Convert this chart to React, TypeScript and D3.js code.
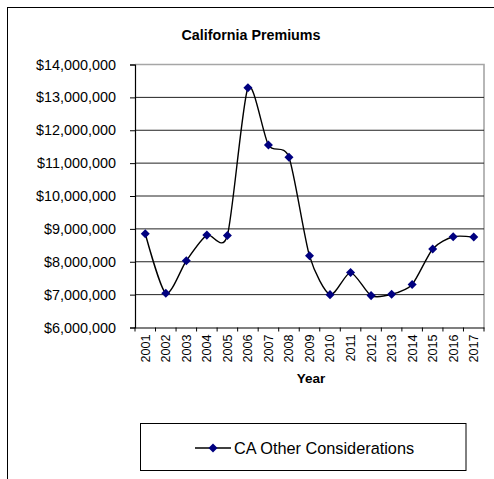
import React, { useEffect, useRef } from 'react';
import * as d3 from 'd3';

const years = ['2001', '2002', '2003', '2004', '2005', '2006', '2007', '2008', '2009',
  '2010', '2011', '2012', '2013', '2014', '2015', '2016', '2017'];
const premiums = [8850000, 7040000, 8030000, 8810000, 8800000, 13290000, 11550000, 11180000,
  8180000, 7000000, 7670000, 6970000, 7010000, 7310000, 8390000, 8760000, 8750000];
const yTicks = [6000000, 7000000, 8000000, 9000000, 10000000, 11000000, 12000000, 13000000, 14000000];
const seriesName = 'CA Other Considerations';
const title = 'California Premiums';
const xTitle = 'Year';

const W = 494;
const H = 479;
const font = '"Liberation Sans", Arial, sans-serif';

const App = () => {
  const svgRef = useRef<SVGSVGElement>(null);

  useEffect(() => {
    const svg = d3.select(svgRef.current);
    svg.selectAll('*').remove();

    const left = 135, right = 484, top = 64.5, bottom = 327.5;
    const x = d3.scaleBand().domain(years).range([left, right]).padding(0);
    const y = d3.scaleLinear().domain([6000000, 14000000]).range([bottom, top]);
    const fmt = (v: number) => '$' + d3.format(',')(v);

    // outer chart border (runs off the right and bottom of the picture)
    svg.append('rect').attr('x', 7.5).attr('y', 7.5).attr('width', W).attr('height', H)
      .attr('fill', 'none').attr('stroke', '#000').attr('stroke-width', 1);

    svg.append('text').attr('x', 251).attr('y', 40).attr('text-anchor', 'middle')
      .attr('font-family', font).attr('font-weight', 'bold').attr('font-size', 14.3)
      .text(title);

    // plot area frame, grey top and right
    svg.append('path')
      .attr('d', `M${left},${top}H${right}V${bottom}`)
      .attr('fill', 'none').attr('stroke', '#a6a6a6').attr('stroke-width', 1.6);

    // gridlines
    svg.append('g').selectAll('line')
      .data(yTicks.filter(t => t > 6000000 && t < 14000000))
      .join('line')
      .attr('x1', left).attr('x2', right)
      .attr('y1', d => y(d)).attr('y2', d => y(d))
      .attr('stroke', '#222').attr('stroke-width', 1);

    // y axis
    const yAxisG = svg.append('g').attr('transform', `translate(${left},0)`)
      .call(d3.axisLeft(y).tickValues(yTicks).tickFormat(d => fmt(+d)).tickSize(5).tickPadding(14));
    yAxisG.select('.domain').attr('stroke', '#000').attr('stroke-width', 1.2);
    yAxisG.selectAll('line').attr('stroke', '#000');
    yAxisG.selectAll('text').attr('font-family', font).attr('font-size', 14.4).attr('fill', '#000');

    // x axis
    const xAxisG = svg.append('g').attr('transform', `translate(0,${bottom})`)
      .call(d3.axisBottom(x).tickSize(0).tickPadding(0));
    xAxisG.select('.domain').attr('stroke', '#000').attr('stroke-width', 1.2);
    xAxisG.selectAll('.tick text').remove();
    xAxisG.append('g').selectAll('line')
      .data(d3.range(years.length + 1))
      .join('line')
      .attr('x1', i => left + i * x.step()).attr('x2', i => left + i * x.step())
      .attr('y1', 0).attr('y2', 4).attr('stroke', '#000');
    xAxisG.append('g').selectAll('text')
      .data(years)
      .join('text')
      .attr('transform', d => `translate(${(x(d) as number) + x.bandwidth() / 2},7) rotate(-90)`)
      .attr('text-anchor', 'end').attr('dy', '0.35em')
      .attr('font-family', font).attr('font-size', 12.6).attr('fill', '#000')
      .text(d => d);

    svg.append('text').attr('x', 311).attr('y', 383).attr('text-anchor', 'middle')
      .attr('font-family', font).attr('font-weight', 'bold').attr('font-size', 13.5)
      .text(xTitle);

    // series, smoothed like the spreadsheet line
    const line = d3.line<number>()
      .x((_, i) => (x(years[i]) as number) + x.bandwidth() / 2)
      .y(d => y(d))
      .curve(d3.curveCardinal.tension(0.25));
    svg.append('path').datum(premiums).attr('d', line)
      .attr('fill', 'none').attr('stroke', '#000').attr('stroke-width', 1.4);

    const diamond = d3.symbol().type(d3.symbolDiamond2).size(52);
    svg.append('g').selectAll('path')
      .data(premiums)
      .join('path')
      .attr('transform', (d, i) => `translate(${(x(years[i]) as number) + x.bandwidth() / 2},${y(d)})`)
      .attr('d', diamond)
      .attr('fill', '#000080');

    // legend
    const lg = svg.append('g');
    lg.append('rect').attr('x', 140.5).attr('y', 423.5).attr('width', 325.5).attr('height', 47)
      .attr('fill', '#fff').attr('stroke', '#000').attr('stroke-width', 1);
    lg.append('line').attr('x1', 195).attr('x2', 231).attr('y1', 448).attr('y2', 448)
      .attr('stroke', '#000').attr('stroke-width', 1.4);
    lg.append('path').attr('transform', 'translate(213,448)').attr('d', diamond).attr('fill', '#000080');
    lg.append('text').attr('x', 234).attr('y', 453.5)
      .attr('font-family', font).attr('font-size', 16.3).attr('fill', '#000')
      .text(seriesName);
  }, []);

  return (
    <svg ref={svgRef} width={W} height={H}
      style={{ position: 'absolute', left: 0, top: 0, background: '#fff' }} />
  );
};

export default App;
